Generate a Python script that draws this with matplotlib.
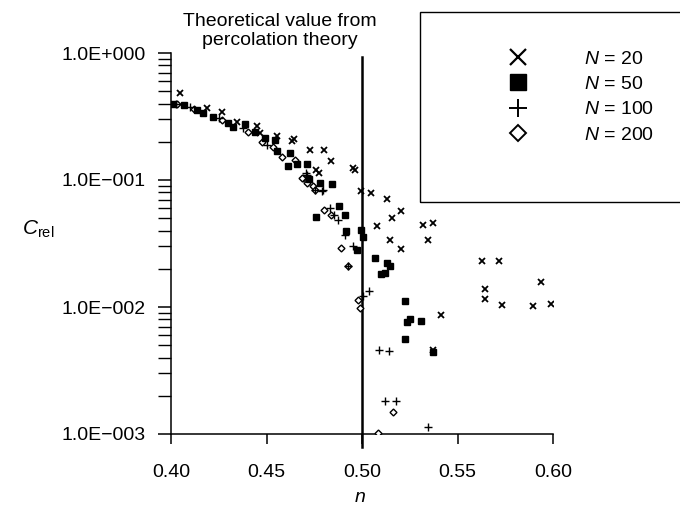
#!/usr/bin/env python

import numpy as np
import matplotlib
matplotlib.use('Agg')
import matplotlib.pyplot as plt
from matplotlib.lines import Line2D
from matplotlib.patches import Rectangle
from matplotlib.ticker import FixedLocator, FuncFormatter, LogLocator, NullFormatter

plt.rcParams['font.family'] = ['Liberation Sans', 'DejaVu Sans']
plt.rcParams['mathtext.fontset'] = 'custom'
plt.rcParams['mathtext.rm'] = 'Liberation Sans'
plt.rcParams['mathtext.it'] = 'Liberation Sans:italic'

# N = 20 (crosses)
n20 = [0.4045, 0.4187, 0.4265, 0.4344, 0.4449, 0.4466, 0.4553, 0.4632, 0.4646, 0.4728,
       0.4801, 0.4836, 0.4759, 0.4777, 0.4955, 0.4963, 0.4995, 0.5046, 0.5130, 0.5203,
       0.5156, 0.5080, 0.5318, 0.5370, 0.5147, 0.5347, 0.5203, 0.5412, 0.5370, 0.5630,
       0.5719, 0.5936, 0.5644, 0.5644, 0.5735, 0.5897, 0.5988]
c20 = [0.480, 0.367, 0.345, 0.288, 0.266, 0.233, 0.222, 0.204, 0.209, 0.172,
       0.172, 0.142, 0.120, 0.113, 0.124, 0.120, 0.082, 0.079, 0.0705, 0.057,
       0.050, 0.0434, 0.0442, 0.0456, 0.034, 0.0337, 0.0285, 0.0086, 0.0046, 0.0232,
       0.0232, 0.0158, 0.0139, 0.0116, 0.0104, 0.0102, 0.0106]

# N = 50 (filled squares)
n50 = [0.4012, 0.4070, 0.4135, 0.4170, 0.4221, 0.4300, 0.4326, 0.4387, 0.4440, 0.4492,
       0.4545, 0.4553, 0.4623, 0.4614, 0.4661, 0.4711, 0.4724, 0.4780, 0.4845, 0.4880,
       0.4757, 0.4911, 0.4915, 0.4995, 0.5007, 0.4976, 0.5070, 0.5133, 0.5147, 0.5100,
       0.5120, 0.5225, 0.5251, 0.5234, 0.5307, 0.5225, 0.5370]
c50 = [0.400, 0.390, 0.356, 0.339, 0.315, 0.283, 0.263, 0.276, 0.240, 0.213,
       0.207, 0.170, 0.162, 0.129, 0.134, 0.134, 0.101, 0.094, 0.093, 0.0624,
       0.0514, 0.053, 0.0399, 0.0404, 0.0354, 0.0281, 0.0244, 0.0223, 0.0211, 0.0182,
       0.0186, 0.0111, 0.0080, 0.0076, 0.0077, 0.0056, 0.0044]

# N = 100 (plus)
n100 = [0.4025, 0.4100, 0.4250, 0.4379, 0.4501, 0.4710, 0.4707, 0.4754, 0.4789, 0.4794,
        0.4832, 0.4855, 0.4876, 0.4911, 0.4955, 0.4928, 0.5037, 0.5004, 0.5089, 0.5141,
        0.5120, 0.5178, 0.5347]
c100 = [0.400, 0.375, 0.310, 0.255, 0.189, 0.110, 0.113, 0.083, 0.082, 0.083,
        0.060, 0.053, 0.0484, 0.0369, 0.030, 0.0211, 0.0134, 0.0122, 0.00458, 0.0045,
        0.00182, 0.00182, 0.00114]

# N = 200 (open diamonds)
n200 = [0.4030, 0.4120, 0.4265, 0.4405, 0.4475, 0.4536, 0.4580, 0.4649, 0.4693, 0.4684,
        0.4714, 0.4745, 0.4754, 0.4803, 0.4838, 0.4889, 0.4928, 0.4977, 0.4990, 0.5164,
        0.5086]
c200 = [0.395, 0.360, 0.297, 0.240, 0.200, 0.181, 0.153, 0.144, 0.103, 0.103,
        0.095, 0.089, 0.083, 0.058, 0.053, 0.029, 0.0211, 0.0114, 0.0098, 0.00148,
        0.00102]

labels = ['$N$ = 20', '$N$ = 50', '$N$ = 100', '$N$ = 200']
n_crit = 0.50
xticks = [0.40, 0.45, 0.50, 0.55, 0.60]
yticks = [1e-3, 1e-2, 1e-1, 1e0]

W, H = 680, 508
fig = plt.figure(figsize=(6.8, 5.08), dpi=100)
ax = fig.add_axes([171/W, 1-434/H, 382/W, 381/H])

ax.plot(n200, c200, ls='none', marker='D', ms=3.5, mfc='white', mec='black', mew=1.0, zorder=3)
ax.plot(n100, c100, ls='none', marker='+', ms=6, color='black', mew=1.0, zorder=3)
ax.plot(n50, c50, ls='none', marker='s', ms=5, color='black', zorder=3)
ax.plot(n20, c20, ls='none', marker='x', ms=4.5, color='black', mew=1.3, zorder=4)

# percolation threshold line
ax.plot([n_crit, n_crit], [7.9e-4, 0.93], color='black', lw=1.8, clip_on=False, zorder=2)

ax.set_yscale('log')
ax.set_xlim(0.40, 0.60)
ax.set_ylim(1e-3, 1.0)

ax.xaxis.set_major_locator(FixedLocator(xticks))
ax.xaxis.set_major_formatter(FuncFormatter(lambda v, p: '%.2f' % v))
ax.yaxis.set_major_locator(FixedLocator(yticks))

def efmt(v, p):
    e = int(round(np.log10(v)))
    return '1.0E%s%03d' % ('+' if e >= 0 else '\u2212', abs(e))

ax.yaxis.set_major_formatter(FuncFormatter(efmt))
ax.yaxis.set_minor_locator(LogLocator(base=10, subs=np.arange(2, 10)))
ax.yaxis.set_minor_formatter(NullFormatter())

for s in ['top', 'right']:
    ax.spines[s].set_visible(False)
for s in ['left', 'bottom']:
    ax.spines[s].set_linewidth(1.1)

ax.tick_params(axis='x', which='major', direction='out', length=7.5, width=1.1, pad=14, labelsize=14)
ax.tick_params(axis='y', which='major', direction='out', length=9.5, width=1.1, pad=9, labelsize=14)
ax.tick_params(axis='y', which='minor', direction='out', length=9.5, width=1.0)

ax.set_xlabel('$n$', fontsize=14)
ax.xaxis.set_label_coords((360-171)/382, (434-489)/381)
ax.set_ylabel(r'$C_{\mathrm{rel}}$', fontsize=15, rotation=0)
ax.yaxis.set_label_coords((38-171)/382, (434-240)/381)

fig.text(280/W, 1-31/H, 'Theoretical value from\npercolation theory', ha='center', va='center',
         fontsize=14, linespacing=1.15)

# legend box
fig.add_artist(Rectangle((420/W, 1-202/H), 300/W, 190/H, transform=fig.transFigure,
                         fill=False, edgecolor='black', lw=1.0))
handles = [Line2D([], [], ls='none', marker='x', ms=11, color='black', mew=1.6),
           Line2D([], [], ls='none', marker='s', ms=11, color='black'),
           Line2D([], [], ls='none', marker='+', ms=13, color='black', mew=1.4),
           Line2D([], [], ls='none', marker='D', ms=8, mfc='white', mec='black', mew=1.4)]
fig.legend(handles, labels, loc='upper left', bbox_to_anchor=(508/W, 1-50/H), frameon=False,
           fontsize=14, handlelength=1.0, handletextpad=2.9, labelspacing=0.4,
           borderpad=0, borderaxespad=0)

plt.savefig('out.png', dpi=100)
